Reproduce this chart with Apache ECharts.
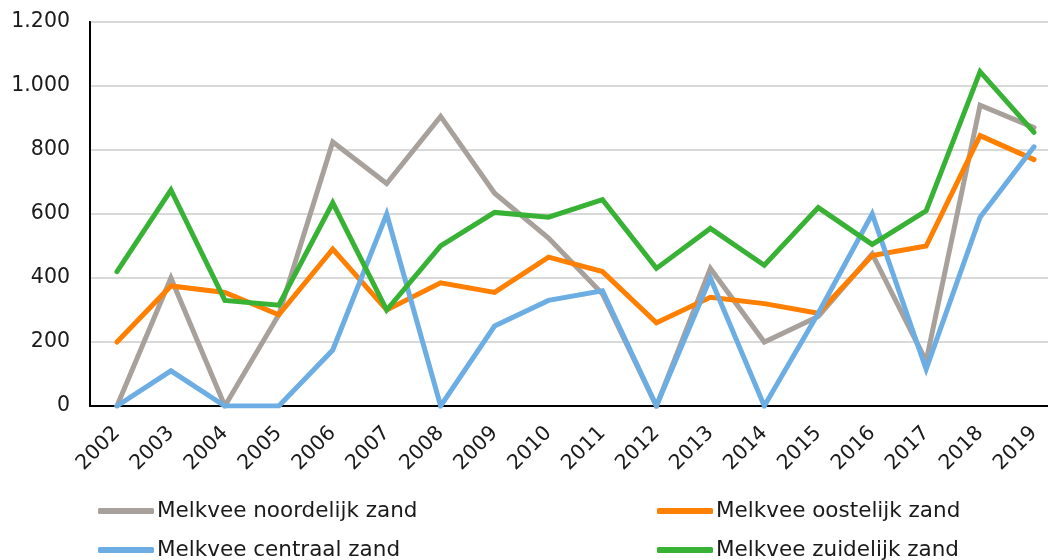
<!DOCTYPE html>
<html>
<head>
<meta charset="utf-8">
<script src="https://cdn.jsdelivr.net/npm/echarts@6/dist/echarts.min.js"></script>
<style>
html,body{margin:0;padding:0;background:#fff;overflow:hidden;}
#chart{width:1070px;height:560px;}
</style>
</head>
<body>
<div id="chart"></div>
<script>
var years = ['2002','2003','2004','2005','2006','2007','2008','2009','2010','2011','2012','2013','2014','2015','2016','2017','2018','2019'];
var noordelijk = [0,400,0,285,825,695,905,665,525,350,0,430,200,280,475,140,940,870];
var oostelijk  = [200,375,355,285,490,300,385,355,465,420,260,340,320,290,470,500,845,770];
var centraal   = [0,110,0,0,175,600,0,250,330,360,0,400,0,290,600,115,590,810];
var zuidelijk  = [420,675,330,315,635,300,500,605,590,645,430,555,440,620,505,610,1045,855];
var yTicks = [0,200,400,600,800,1000,1200];

var names = ['Melkvee noordelijk zand','Melkvee oostelijk zand','Melkvee centraal zand','Melkvee zuidelijk zand'];
var colors = ['#A8A09A','#FF7F00','#6CAEE3','#37B234'];
var values = [noordelijk, oostelijk, centraal, zuidelijk];

var FONT = '"DejaVu Sans", Verdana, sans-serif';

function fmt(v){
  return String(v).replace(/\B(?=(\d{3})+(?!\d))/g, '.');
}

var series = names.map(function(n,i){
  return {
    name: n,
    type: 'line',
    data: values[i],
    showSymbol: false,
    symbol: 'none',
    animation: false,
    lineStyle: {color: colors[i], width: 5, cap: 'round', join: 'miter'},
    itemStyle: {color: colors[i]},
    z: 2 + i
  };
});

// legend positions: [left, top] for each series (two columns, two rows)
var legendPos = [[98,500],[657,500],[98,539],[657,539]];
var legends = names.map(function(n,i){
  return {
    left: legendPos[i][0],
    top: legendPos[i][1],
    padding: 0,
    orient: 'horizontal',
    icon: 'roundRect',
    itemWidth: 56,
    itemHeight: 6,
    data: [n],
    textStyle: {fontFamily: FONT, fontSize: 21.5, color: '#1a1a1a', padding: [0,0,0,-2]}
  };
});

var chart = echarts.init(document.getElementById('chart'), null, {renderer: 'canvas'});
chart.setOption({
  backgroundColor: '#fff',
  animation: false,
  color: colors,
  grid: {
    left: 90, top: 22, right: 9, bottom: 154,
    show: true, borderColor: '#000', borderWidth: 2, backgroundColor: 'transparent',
    containLabel: false
  },
  legend: legends,
  xAxis: {
    type: 'category',
    data: years,
    boundaryGap: true,
    axisLine: {show: true, lineStyle: {color: '#000', width: 2}},
    axisTick: {show: false},
    axisLabel: {rotate: 45, margin: 24, fontFamily: FONT, fontSize: 20.5, color: '#1a1a1a', interval: 0},
    splitLine: {show: false}
  },
  yAxis: {
    type: 'value',
    min: yTicks[0],
    max: yTicks[yTicks.length-1],
    interval: yTicks[1]-yTicks[0],
    axisLine: {show: true, lineStyle: {color: '#000', width: 2}},
    axisTick: {show: false},
    axisLabel: {margin: 20, fontFamily: FONT, fontSize: 20.5, color: '#1a1a1a', formatter: function(v){return fmt(v);}},
    splitLine: {show: true, lineStyle: {color: '#D9D9D9', width: 2}}
  },
  series: series
});
</script>
</body>
</html>
